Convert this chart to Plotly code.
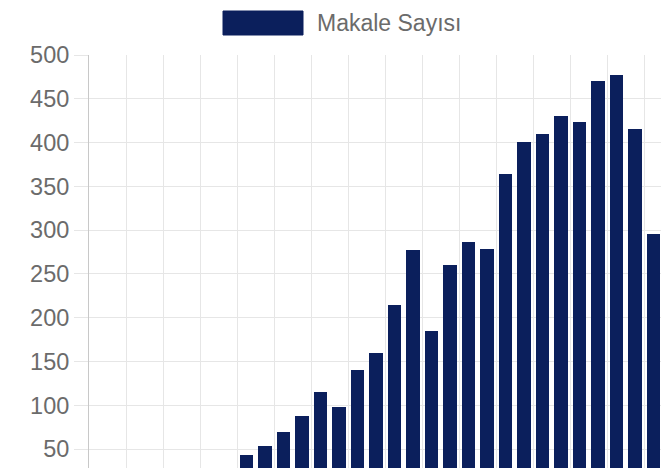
import plotly.graph_objects as go

# Data (years are estimated; leading small values are below the visible cut-off)
years = list(range(1990, 2021))
makale_sayisi = [3, 5, 6, 8, 11, 14, 18, 24,
                 43, 54, 70, 88, 115, 98, 140, 160, 215, 277, 185, 260, 287, 279,
                 364, 401, 410, 430, 423, 470, 477, 415, 296]
series_name = "Makale Sayısı"
y_ticks = list(range(50, 501, 50))

W, H = 661, 468            # figure / screen size
L, T = 89, 55              # plot-area left / top
BAR_COLOR = "#0b1f5c"
TEXT_COLOR = "#6b6b6b"
FONT = "Liberation Sans, Arial, sans-serif"

fig = go.Figure()
fig.add_trace(go.Bar(
    x=years, y=makale_sayisi, name=series_name,
    width=0.72, marker=dict(color=BAR_COLOR, line=dict(width=0)),
    showlegend=False,
))

pw, ph = W - L, H - T
def px_x(px):
    return (px - L) / pw
def px_y(py):
    return (H - py) / ph

# manual legend box + label
fig.add_shape(type="rect", xref="paper", yref="paper",
              x0=px_x(223), x1=px_x(303), y0=px_y(35), y1=px_y(11),
              fillcolor=BAR_COLOR, line=dict(color=BAR_COLOR, width=1))
fig.add_annotation(xref="paper", yref="paper", x=px_x(315), y=px_y(23),
                   text=series_name, showarrow=False, xanchor="left", yanchor="middle",
                   font=dict(family=FONT, size=23, color=TEXT_COLOR))

fig.update_layout(
    width=W, height=H,
    margin=dict(l=L, r=0, t=T, b=0, pad=0, autoexpand=False),
    paper_bgcolor="white", plot_bgcolor="white",
    font=dict(family=FONT, color=TEXT_COLOR),
    bargap=0,
)
fig.update_xaxes(
    range=[years[0] - 0.5, years[0] - 0.5 + pw / 18.51],
    tick0=years[0] - 0.5, dtick=2, showticklabels=False,
    showgrid=True, gridcolor="#e6e6e6", gridwidth=1, zeroline=False,
    ticks="", automargin=False,
)
fig.update_yaxes(
    range=[28.5, 500], tickvals=y_ticks,
    showgrid=True, gridcolor="#e6e6e6", gridwidth=1, zeroline=False,
    ticks="outside", ticklen=14, tickcolor="#e6e6e6", tickwidth=1,
    showline=True, linecolor="#c8c8c8", linewidth=1,
    tickfont=dict(family=FONT, size=23.5, color=TEXT_COLOR),
    ticklabelstandoff=0, automargin=False,
)

fig.write_html(
    "out.html",
    config={"displayModeBar": False},
    post_script="document.body.style.margin='0';document.body.style.overflow='hidden';",
)
